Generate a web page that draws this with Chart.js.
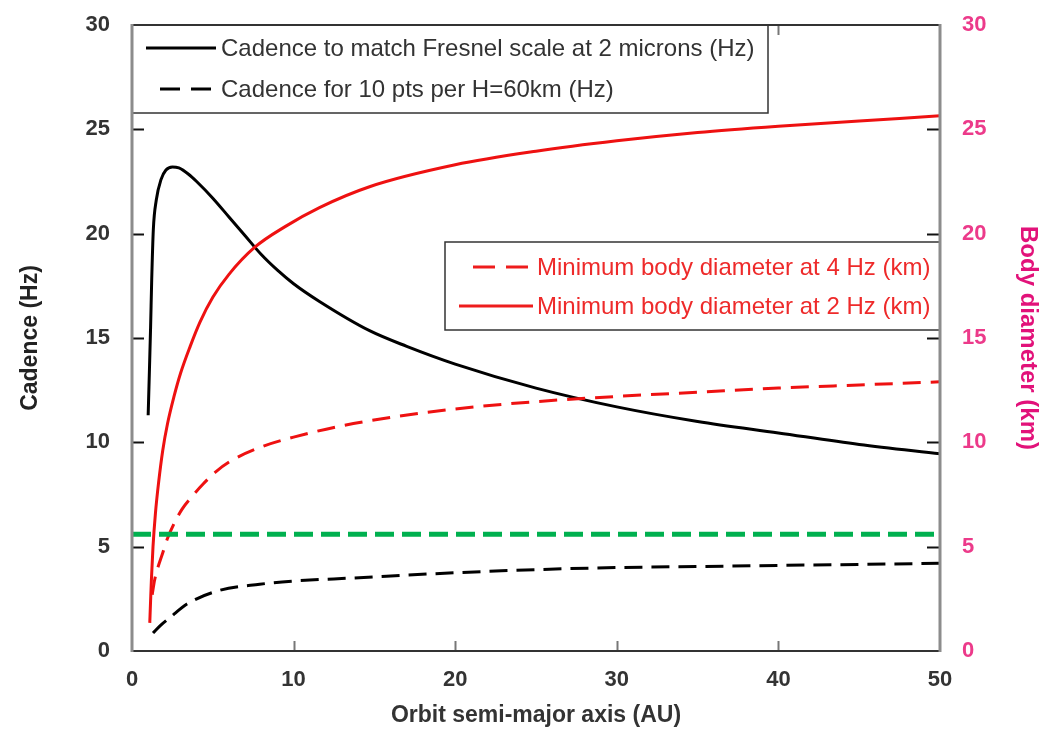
<!DOCTYPE html>
<html>
<head>
<meta charset="utf-8">
<script src="https://cdn.jsdelivr.net/npm/chart.js@4.4.1/dist/chart.umd.min.js"></script>
<style>
  html, body { margin: 0; background: #fff; }
</style>
</head>
<body>
<canvas id="chart" width="1055" height="731"></canvas>
<script>
// cadence / minimum body size vs orbit semi-major axis
const xTicks = [0, 10, 20, 30, 40, 50];
const yTicks = [0, 5, 10, 15, 20, 25, 30];

// cadence to match Fresnel scale at 2 microns (Hz)
const fresnelX = [1.0, 1.08, 1.15, 1.22, 1.32, 1.5, 1.8, 2.1, 2.5, 2.9, 3.5, 4, 5, 6, 7, 8, 9, 10, 11.6, 14.7, 17, 20, 25, 30, 35, 40, 45, 50];
const fresnelY = [11.3, 13.5, 15.5, 17.8, 20.2, 21.6, 22.6, 23.05, 23.2, 23.15, 22.85, 22.5, 21.7, 20.8, 19.9, 19.0, 18.25, 17.6, 16.75, 15.35, 14.6, 13.75, 12.6, 11.7, 11.0, 10.45, 9.9, 9.45];

// cadence for 10 pts per H=60km (Hz)
const scaleHX = [1.3, 1.8, 2.35, 3.4, 5.4, 7.9, 10, 13.7, 20, 25, 30, 35, 40, 45, 50];
const scaleHY = [0.86, 1.25, 1.6, 2.25, 2.9, 3.2, 3.35, 3.5, 3.75, 3.9, 4.0, 4.05, 4.1, 4.15, 4.2];

// minimum body diameter at 4 Hz (km), right axis
const diam4X = [1.25, 1.4, 1.6, 1.9, 2.2, 2.6, 3.1, 3.6, 4.4, 5.2, 6.1, 7.9, 10, 13.7, 20, 25, 30, 35, 40, 45, 50];
const diam4Y = [2.7, 3.4, 4.0, 4.7, 5.4, 6.1, 6.8, 7.3, 8.0, 8.6, 9.1, 9.75, 10.25, 10.9, 11.6, 11.95, 12.2, 12.4, 12.6, 12.75, 12.9];

// minimum body diameter at 2 Hz (km), right axis
const diam2X = [1.1, 1.15, 1.2, 1.3, 1.45, 1.65, 1.9, 2.2, 2.6, 3.0, 3.6, 4.2, 5, 6, 7.6, 9.5, 11.6, 14.7, 20, 25, 30, 35, 40, 45, 50];
const diam2Y = [1.35, 2.4, 3.4, 5.0, 6.6, 8.1, 9.6, 10.9, 12.2, 13.3, 14.6, 15.75, 16.95, 18.05, 19.35, 20.35, 21.25, 22.25, 23.3, 23.95, 24.45, 24.85, 25.15, 25.4, 25.65];

// horizontal reference cadence
const refX = [0, 50];
const refY = [5.6, 5.6];

const legendTop = [
  { label: "Cadence to match Fresnel scale at 2 microns (Hz)", color: "#000", dash: [] },
  { label: "Cadence for 10 pts per H=60km (Hz)", color: "#000", dash: [20, 11] },
];
const legendLower = [
  { label: "Minimum body diameter at 4 Hz (km)", color: "#ee1c1c", dash: [22, 11] },
  { label: "Minimum body diameter at 2 Hz (km)", color: "#ee1c1c", dash: [] },
];

const FONT = '"Liberation Sans", Arial, sans-serif';
const RED = "#ee1111";
const PINK_TICK = "#ec3a8a";
const PINK_TITLE = "#e2127a";

const pts = (xs, ys) => xs.map((x, i) => ({ x, y: ys[i] }));

function drawLegend(ctx, box, items, textColor) {
  ctx.fillStyle = "#fff";
  ctx.fillRect(box.x, box.y, box.w, box.h);
  ctx.strokeStyle = "#333";
  ctx.lineWidth = 1.5;
  ctx.strokeRect(box.x, box.y, box.w, box.h);
  ctx.font = `24px ${FONT}`;
  ctx.textBaseline = "middle";
  ctx.textAlign = "left";
  items.forEach((it, i) => {
    const yy = box.y + box.rows[i];
    ctx.strokeStyle = it.color;
    ctx.lineWidth = 3;
    ctx.setLineDash(it.dash);
    ctx.beginPath();
    ctx.moveTo(it.dash.length ? box.sampleX0 + 14 : box.sampleX0, yy);
    ctx.lineTo(box.sampleX1, yy);
    ctx.stroke();
    ctx.setLineDash([]);
    ctx.fillStyle = textColor;
    ctx.fillText(it.label, box.textX, yy + 1);
  });
}

const framePlugin = {
  id: "frame",
  afterDatasetsDraw(chart) {
    const { ctx, chartArea: a, scales } = chart;
    const { x, y, y2 } = scales;
    ctx.save();
    // inward tick marks
    ctx.lineWidth = 2;
    ctx.strokeStyle = "#111";
    yTicks.slice(1, -1).forEach(v => {
      const py = Math.round(y.getPixelForValue(v)) + 0.5;
      ctx.beginPath(); ctx.moveTo(a.left, py); ctx.lineTo(a.left + 12, py); ctx.stroke();
      const py2 = Math.round(y2.getPixelForValue(v)) + 0.5;
      ctx.beginPath(); ctx.moveTo(a.right - 13, py2); ctx.lineTo(a.right, py2); ctx.stroke();
    });
    ctx.strokeStyle = "#777";
    xTicks.slice(1, -1).forEach(v => {
      const px = Math.round(x.getPixelForValue(v)) + 0.5;
      ctx.beginPath(); ctx.moveTo(px, a.bottom); ctx.lineTo(px, a.bottom - 10); ctx.stroke();
      ctx.beginPath(); ctx.moveTo(px, a.top); ctx.lineTo(px, a.top + 10); ctx.stroke();
    });

    // legends
    drawLegend(ctx, {
      x: a.left, y: a.top, w: 636, h: 88, rows: [23, 64],
      sampleX0: a.left + 14, sampleX1: a.left + 84, textX: a.left + 89,
    }, legendTop, "#333");
    drawLegend(ctx, {
      x: a.left + 313, y: a.top + 217, w: a.right - a.left - 313, h: 88, rows: [25, 64],
      sampleX0: a.left + 327, sampleX1: a.left + 401, textX: a.left + 405,
    }, legendLower, "#ee2a2a");

    // plot frame
    ctx.strokeStyle = "#333";
    ctx.lineWidth = 2;
    ctx.beginPath(); ctx.moveTo(a.left, a.top); ctx.lineTo(a.right, a.top); ctx.stroke();
    ctx.beginPath(); ctx.moveTo(a.left, a.bottom); ctx.lineTo(a.right, a.bottom); ctx.stroke();
    ctx.strokeStyle = "#8c8c8c";
    ctx.lineWidth = 3;
    ctx.beginPath(); ctx.moveTo(a.left, a.top - 1); ctx.lineTo(a.left, a.bottom + 1); ctx.stroke();
    ctx.beginPath(); ctx.moveTo(a.right, a.top - 1); ctx.lineTo(a.right, a.bottom + 1); ctx.stroke();
    ctx.restore();
  },
};

const line = (label, xs, ys, color, width, dash, axis) => ({
  label, data: pts(xs, ys), borderColor: color, borderWidth: width,
  borderDash: dash, yAxisID: axis, pointRadius: 0, fill: false,
  cubicInterpolationMode: "monotone",
});

// fixed axis widths, no extra tick padding above/below the plot
const fitY = w => s => { s.width = w; s.paddingTop = 0; s.paddingBottom = 0; };

new Chart(document.getElementById("chart"), {
  type: "line",
  data: {
    datasets: [
      line("reference", refX, refY, "#00b04f", 5, [19, 8], "y"),
      line(legendTop[1].label, scaleHX, scaleHY, "#000", 3, [18, 9], "y"),
      line(legendLower[0].label, diam4X, diam4Y, RED, 3, [18, 10], "y2"),
      line(legendLower[1].label, diam2X, diam2Y, RED, 3, [], "y2"),
      line(legendTop[0].label, fresnelX, fresnelY, "#000", 3, [], "y"),
    ],
  },
  options: {
    responsive: false,
    animation: false,
    layout: { padding: { top: 25, left: 0, right: 0, bottom: 0 } },
    plugins: { legend: { display: false }, tooltip: { enabled: false } },
    scales: {
      x: {
        type: "linear", min: 0, max: 50,
        afterBuildTicks: s => { s.ticks = xTicks.map(v => ({ value: v })); },
        grid: { display: false, drawTicks: false },
        border: { display: false },
        ticks: { autoSkip: false, maxRotation: 0, padding: 16, color: "#333", font: { family: FONT, size: 22, weight: "bold" } },
        title: { display: true, text: "Orbit semi-major axis (AU)", color: "#333", padding: { top: 0, bottom: 2 }, font: { family: FONT, size: 23, weight: "bold" } },
        afterFit: s => { s.height = 80; s.paddingLeft = 0; s.paddingRight = 0; },
      },
      y: {
        position: "left", min: 0, max: 30,
        afterBuildTicks: s => { s.ticks = yTicks.map(v => ({ value: v })); },
        grid: { display: false, drawTicks: false },
        border: { display: false },
        ticks: { padding: 22, color: "#333", font: { family: FONT, size: 22, weight: "bold" } },
        title: { display: true, text: "Cadence (Hz)", color: "#222", padding: { top: 17, bottom: 0 }, font: { family: FONT, size: 23, weight: "bold" } },
        afterFit: fitY(132),
      },
      y2: {
        position: "right", min: 0, max: 30,
        afterBuildTicks: s => { s.ticks = yTicks.map(v => ({ value: v })); },
        grid: { display: false, drawTicks: false },
        border: { display: false },
        ticks: { padding: 22, color: PINK_TICK, font: { family: FONT, size: 22, weight: "bold" } },
        title: { display: true, text: "Body diameter (km)", color: PINK_TITLE, padding: { top: 13, bottom: 0 }, font: { family: FONT, size: 24, weight: "bold" } },
        afterFit: fitY(115),
      },
    },
  },
  plugins: [framePlugin],
});
</script>
</body>
</html>
